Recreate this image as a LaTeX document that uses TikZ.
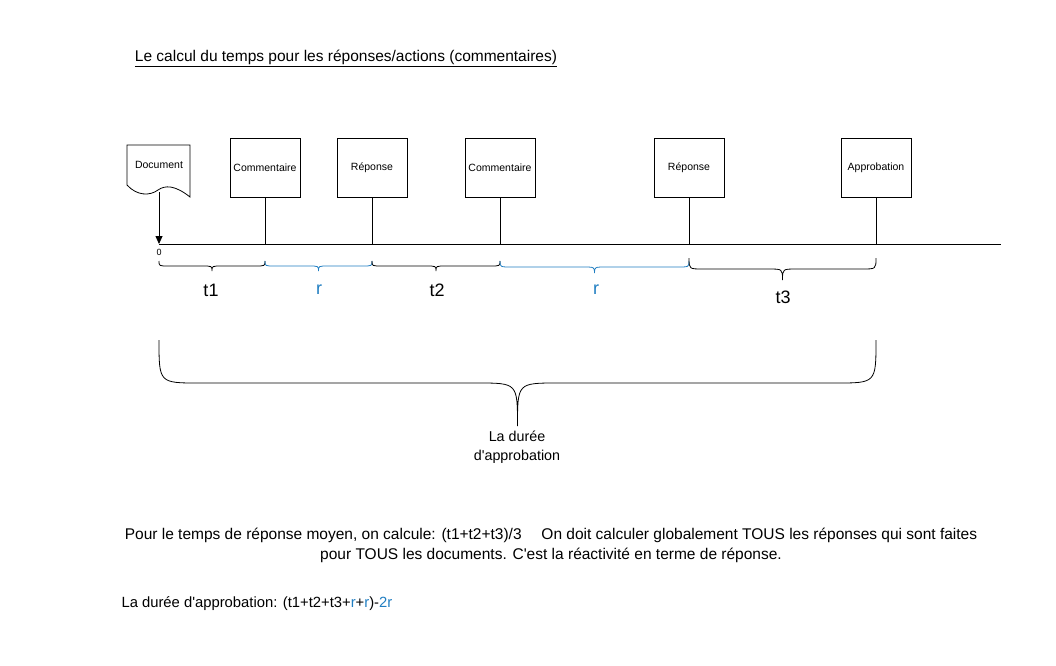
\documentclass[tikz,border=0pt]{standalone}
\usepackage{fontspec}
\setmainfont{Liberation Sans}
\usetikzlibrary{arrows.meta,calc,positioning}
\definecolor{rblue}{HTML}{1F7DC1}
\tikzset{event box/.style={
	draw,
	rectangle,
	minimum width=70pt,
	minimum height=59pt,
	inner sep=0pt,
	font=\fontsize{10.5}{12}\selectfont,
	thick,
}}
\tikzset{brace label/.style={
	font=\fontsize{18}{20}\selectfont,
}}
\newcommand{\hbrace}[6]{% x1, x2, y, height, radius, style
\pgfmathsetmacro{\bm}{(#1+#2)/2}
\pgfmathsetmacro{\bh}{#3+#4/2}
\pgfmathsetmacro{\bb}{#3+#4}
\draw[#6] (#1,#3) .. controls (#1,\bh) .. (#1+#5,\bh) -- (\bm-#5,\bh)
.. controls (\bm,\bh) .. (\bm,\bb) .. controls (\bm,\bh) .. (\bm+#5,\bh)
-- (#2-#5,\bh) .. controls (#2,\bh) .. (#2,#3);
}
\begin{document}
\begin{tikzpicture}[x=1pt,y=-1pt]
\useasboundingbox (0,0) rectangle (1056,665);

\node(title) at (346,58) {\fontsize{15.5}{18}\selectfont\underline{Le calcul du temps pour les réponses/actions (commentaires)}};

% document shape
\draw[thick] (127,145) -- (190,145) -- (190,197)
.. controls (175,185) and (165,185) .. (158,190)
.. controls (150,196) and (137,196) .. (127,185) -- cycle;
\node[font=\fontsize{10.5}{12}\selectfont](doc) at (159,165) {Document};
\coordinate(docb) at (159,192);

% events
\node[event box](c1) at (265,167.5) {Commentaire};
\node[event box](r1) at (372,167.5) {Réponse};
\node[event box](c2) at (500,167.5) {Commentaire};
\node[event box](r2) at (689,167.5) {Réponse};
\node[event box](ap) at (876,167.5) {Approbation};

% time axis
\coordinate(t0) at (159,244);
\coordinate(tend) at (1001,244);
\draw[thick] (t0) -- (tend);
\draw[thick,-{Triangle[length=8pt,width=7pt]}] (docb) -- (t0);
\node[font=\fontsize{9}{10}\selectfont](zero) at (159,252) {0};
\foreach \n in {c1,r1,c2,r2,ap}
\draw[thick] (\n.south) -- (\n.south |- t0);

% braces
\hbrace{159}{265}{261}{10}{10}{thick}
\hbrace{265}{372}{261}{10}{10}{thick,rblue}
\hbrace{372}{500}{261}{10}{10}{thick}
\hbrace{500}{689}{261}{12}{12}{thick,rblue}
\hbrace{689}{876}{258}{22}{14}{thick}
\hbrace{159}{876}{340}{86}{40}{thick}

\node[brace label](lt1) at (211,290) {t1};
\node[brace label,rblue](lr1) at (319,290) {r};
\node[brace label](lt2) at (437,290) {t2};
\node[brace label,rblue](lr2) at (596,290) {r};
\node[brace label](lt3) at (783,297) {t3};
\node[align=center,font=\fontsize{14.3}{19}\selectfont](dur) at (517,447) {La durée\\d\textquotesingle approbation};

% notes
\node[align=center,font=\fontsize{15.5}{20}\selectfont](note) at (551,545) {Pour le temps de réponse moyen, on calcule: (t1+t2+t3)/3\quad\ On doit calculer globalement TOUS les réponses qui sont faites\\pour TOUS les documents. C\textquotesingle est la réactivité en terme de réponse.};
\node[anchor=west,font=\fontsize{14.8}{17}\selectfont](formula) at (118,604) {La durée d\textquotesingle approbation: (t1+t2+t3+\textcolor{rblue}{r}+\textcolor{rblue}{r})-\textcolor{rblue}{2r}};
\end{tikzpicture}
\end{document}
